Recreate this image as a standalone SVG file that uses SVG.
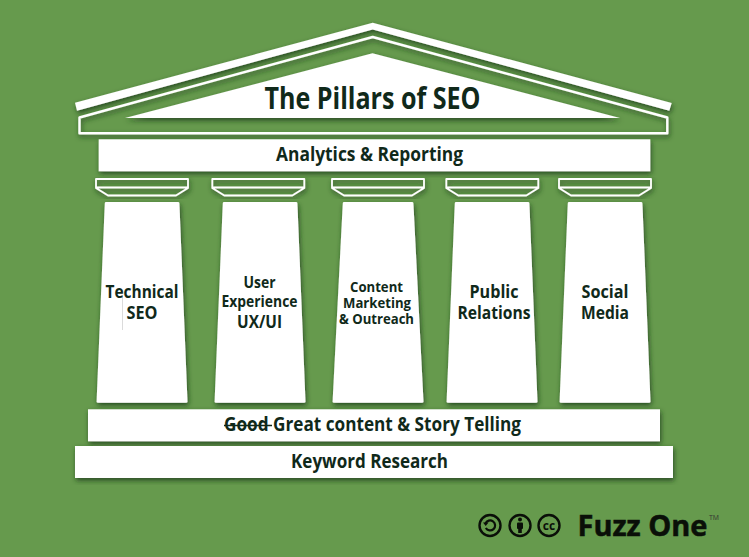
<svg xmlns="http://www.w3.org/2000/svg" width="749" height="557" viewBox="0 0 749 557">
<defs>
<filter id="sh" x="-10%" y="-10%" width="120%" height="130%"><feDropShadow dx="1" dy="2.500" stdDeviation="2.600" flood-color="#1c3812" flood-opacity="0.8"/></filter>
</defs>
<style>
.w{fill:#fff;filter:url(#sh)}
.o{fill:none;stroke:#fff;stroke-width:1.800;stroke-linejoin:round;filter:url(#sh)}
text{font-family:"Open Sans","Noto Sans","Liberation Sans",sans-serif;font-weight:700;fill:#10291a;text-anchor:middle}
.b{font-size:19.500px}
.p{font-size:18.500px}
.s{font-size:15.500px}
.c{font-size:14.800px}
.k{fill:none;stroke:#0a0f08;stroke-width:2.400}
</style>
<rect width="749" height="557" fill="#669a4d"/>
<g id="roof">
<path class="w" d="M75 102.700L372.700 22.700L671.700 103L669.300 110.700L372.700 29.500L77 110.700Z"/>
<path class="o" style="stroke-width:2.400" d="M79.500 117.500L372.700 37L667.300 117.500V133.300H79.500Z"/>
<path class="w" d="M125 118L372.500 53.300L620 118Z"/>
<text x="372.500" y="109" textLength="216" lengthAdjust="spacingAndGlyphs" style="font-size:29.500px">The Pillars of SEO</text>
</g>
<g id="analytics">
<rect class="w" x="98.700" y="139.300" width="551.600" height="32"/>
<text class="b" x="369.500" y="161" textLength="187" lengthAdjust="spacingAndGlyphs">Analytics &amp; Reporting</text>
</g>
<g id="capitals">
<path class="o" d="M96 179H188V188L176 195.500H108L96 188ZM96 187.500H188"/>
<path class="o" d="M212.300 179H304.300V188L292.300 195.500H224.300L212.300 188ZM212.300 187.500H304.300"/>
<path class="o" d="M332 179H424V188L412 195.500H344L332 188ZM332 187.500H424"/>
<path class="o" d="M446.300 179H538.300V188L526.300 195.500H458.300L446.300 188ZM446.300 187.500H538.300"/>
<path class="o" d="M559 179H651V188L639 195.500H571L559 188ZM559 187.500H651"/>
</g>
<g id="pillar-technical">
<path class="w" d="M106 202H178Q179.300 202 179.400 203L187.500 401.500Q187.500 402.800 186 402.800H98Q96.600 402.800 96.600 401.500L104.800 203Q104.900 202 106 202Z"/>
<path d="M122.500 295V330" stroke="#ccc" stroke-width="0.700" fill="none"/>
<text class="p" x="142" y="298" textLength="73" lengthAdjust="spacingAndGlyphs">Technical</text>
<text class="p" x="142" y="319" textLength="31" lengthAdjust="spacingAndGlyphs">SEO</text>
</g>
<g id="pillar-ux">
<path class="w" d="M224 202H296Q297.300 202 297.400 203L305.500 401.500Q305.500 402.800 304 402.800H216Q214.600 402.800 214.600 401.500L222.800 203Q222.900 202 224 202Z"/>
<text class="s" x="259.500" y="288" textLength="32" lengthAdjust="spacingAndGlyphs">User</text>
<text class="s" x="259.500" y="306.500" textLength="76" lengthAdjust="spacingAndGlyphs">Experience</text>
<text class="p" x="259.500" y="328" textLength="45" lengthAdjust="spacingAndGlyphs">UX/UI</text>
</g>
<g id="pillar-content">
<path class="w" d="M344 202H412Q413.300 202 413.400 203L423.500 401.500Q423.500 402.800 422 402.800H334Q332.600 402.800 332.600 401.500L342.800 203Q342.900 202 344 202Z"/>
<text class="c" x="376.500" y="291.500" textLength="53" lengthAdjust="spacingAndGlyphs">Content</text>
<text class="c" x="377" y="307.500" textLength="68" lengthAdjust="spacingAndGlyphs">Marketing</text>
<text class="c" x="376.500" y="323.500" textLength="75" lengthAdjust="spacingAndGlyphs">&amp; Outreach</text>
</g>
<g id="pillar-pr">
<path class="w" d="M456 202H528Q529.300 202 529.400 203L537.500 401.500Q537.500 402.800 536 402.800H448Q446.600 402.800 446.600 401.500L454.800 203Q454.900 202 456 202Z"/>
<text class="p" x="494" y="298" textLength="49" lengthAdjust="spacingAndGlyphs">Public</text>
<text class="p" x="494" y="319" textLength="73" lengthAdjust="spacingAndGlyphs">Relations</text>
</g>
<g id="pillar-social">
<path class="w" d="M569 202H641Q642.300 202 642.400 203L650.500 401.500Q650.500 402.800 649 402.800H561Q559.600 402.800 559.600 401.500L567.800 203Q567.900 202 569 202Z"/>
<text class="p" x="605" y="298" textLength="47" lengthAdjust="spacingAndGlyphs">Social</text>
<text class="p" x="605" y="319" textLength="48" lengthAdjust="spacingAndGlyphs">Media</text>
</g>
<g id="content">
<rect class="w" x="88" y="409.300" width="572" height="32"/>
<text class="b" x="372.500" y="431" textLength="297" lengthAdjust="spacingAndGlyphs">Good Great content &amp; Story Telling</text>
<path d="M224 425.500H272" stroke="#10291a" stroke-width="1.500"/>
</g>
<g id="keyword">
<rect class="w" x="75" y="446" width="598" height="32"/>
<text class="b" x="369.500" y="467.500" textLength="157" lengthAdjust="spacingAndGlyphs">Keyword Research</text>
</g>
<g id="logo">
<circle class="k" cx="490" cy="525.500" r="10.500"/>
<path d="M485.500 523.500A5 5 0 1 1 485.800 528" fill="none" stroke="#0a0f08" stroke-width="2.200"/>
<path d="M483 522.500H488.500L485.700 526Z" fill="#0a0f08"/>
<circle class="k" cx="520" cy="525.500" r="10.500"/>
<circle cx="520" cy="519.500" r="2" fill="#0a0f08"/>
<rect x="517" y="522.500" width="6" height="6.500" rx="1" fill="#0a0f08"/>
<rect x="518.200" y="528" width="3.600" height="5" fill="#0a0f08"/>
<circle class="k" cx="549" cy="525.500" r="10.500"/>
<text x="549" y="529.500" style="font-size:12px;fill:#0a0f08">cc</text>
<text x="642.500" y="535.500" textLength="130" lengthAdjust="spacingAndGlyphs" style="font-size:28px;fill:#0a0f08;stroke:#0a0f08;stroke-width:0.500">Fuzz One</text>
<text x="714" y="520" textLength="10" lengthAdjust="spacingAndGlyphs" style="font-size:7px;font-weight:400;fill:#333">TM</text>
</g>
</svg>
